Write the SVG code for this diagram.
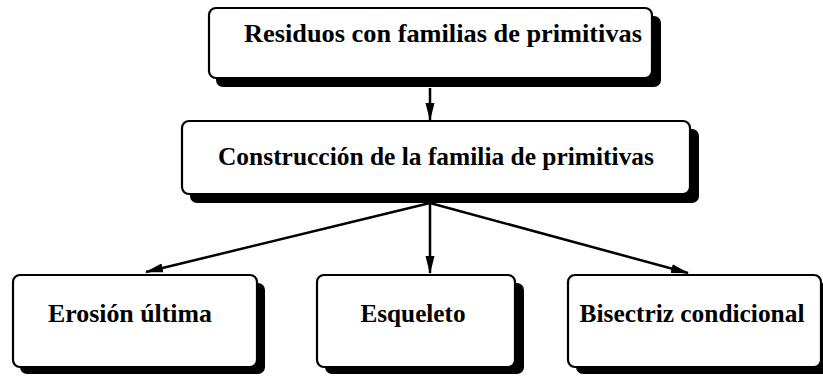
<svg xmlns="http://www.w3.org/2000/svg" width="823" height="376" viewBox="0 0 823 376">
<style>
.sh{fill:#000}
.bx{fill:#fff;stroke:#000;stroke-width:2.2}
.t{font-family:"Liberation Serif","Times New Roman",serif;font-weight:bold;font-size:25px;fill:#000;text-anchor:middle}
.c{stroke:#000;stroke-width:2.5;fill:none;marker-end:url(#ah)}
</style>
<defs>
<marker id="ah" markerWidth="18" markerHeight="10" refX="17" refY="5" orient="auto" markerUnits="userSpaceOnUse">
<path d="M0,0.5 L18,5 L0,9.5 Z" fill="#000"/>
</marker>
</defs>
<rect width="823" height="376" fill="#fff"/>
<g id="connectors">
<line class="c" x1="430" y1="88" x2="430" y2="120"/>
<line class="c" x1="430" y1="203" x2="146" y2="272"/>
<line class="c" x1="430" y1="203" x2="430" y2="273"/>
<line class="c" x1="430" y1="203" x2="688" y2="273"/>
</g>
<g id="n1">
<rect class="sh" x="216" y="16" width="445" height="71" rx="7"/>
<rect class="bx" x="209" y="8" width="443" height="70" rx="7"/>
<text class="t" x="443" y="42" textLength="398" lengthAdjust="spacingAndGlyphs">Residuos con familias de primitivas</text>
</g>
<g id="n2">
<rect class="sh" x="190" y="129" width="509" height="74" rx="7"/>
<rect class="bx" x="182" y="121" width="508" height="73" rx="7"/>
<text class="t" x="436" y="165" textLength="436" lengthAdjust="spacingAndGlyphs">Construcción de la familia de primitivas</text>
</g>
<g id="n3">
<rect class="sh" x="20" y="283" width="245" height="91" rx="7"/>
<rect class="bx" x="13" y="275" width="244" height="92" rx="7"/>
<text class="t" x="130" y="322" textLength="164" lengthAdjust="spacingAndGlyphs">Erosión última</text>
</g>
<g id="n4">
<rect class="sh" x="325" y="283" width="199" height="91" rx="7"/>
<rect class="bx" x="317" y="275" width="198" height="92" rx="7"/>
<text class="t" x="413" y="322" textLength="105" lengthAdjust="spacingAndGlyphs">Esqueleto</text>
</g>
<g id="n5">
<rect class="sh" x="576" y="283" width="255" height="91" rx="7"/>
<rect class="bx" x="568" y="275" width="253" height="92" rx="7"/>
<text class="t" x="692" y="322" textLength="225" lengthAdjust="spacingAndGlyphs">Bisectriz condicional</text>
</g>
</svg>
